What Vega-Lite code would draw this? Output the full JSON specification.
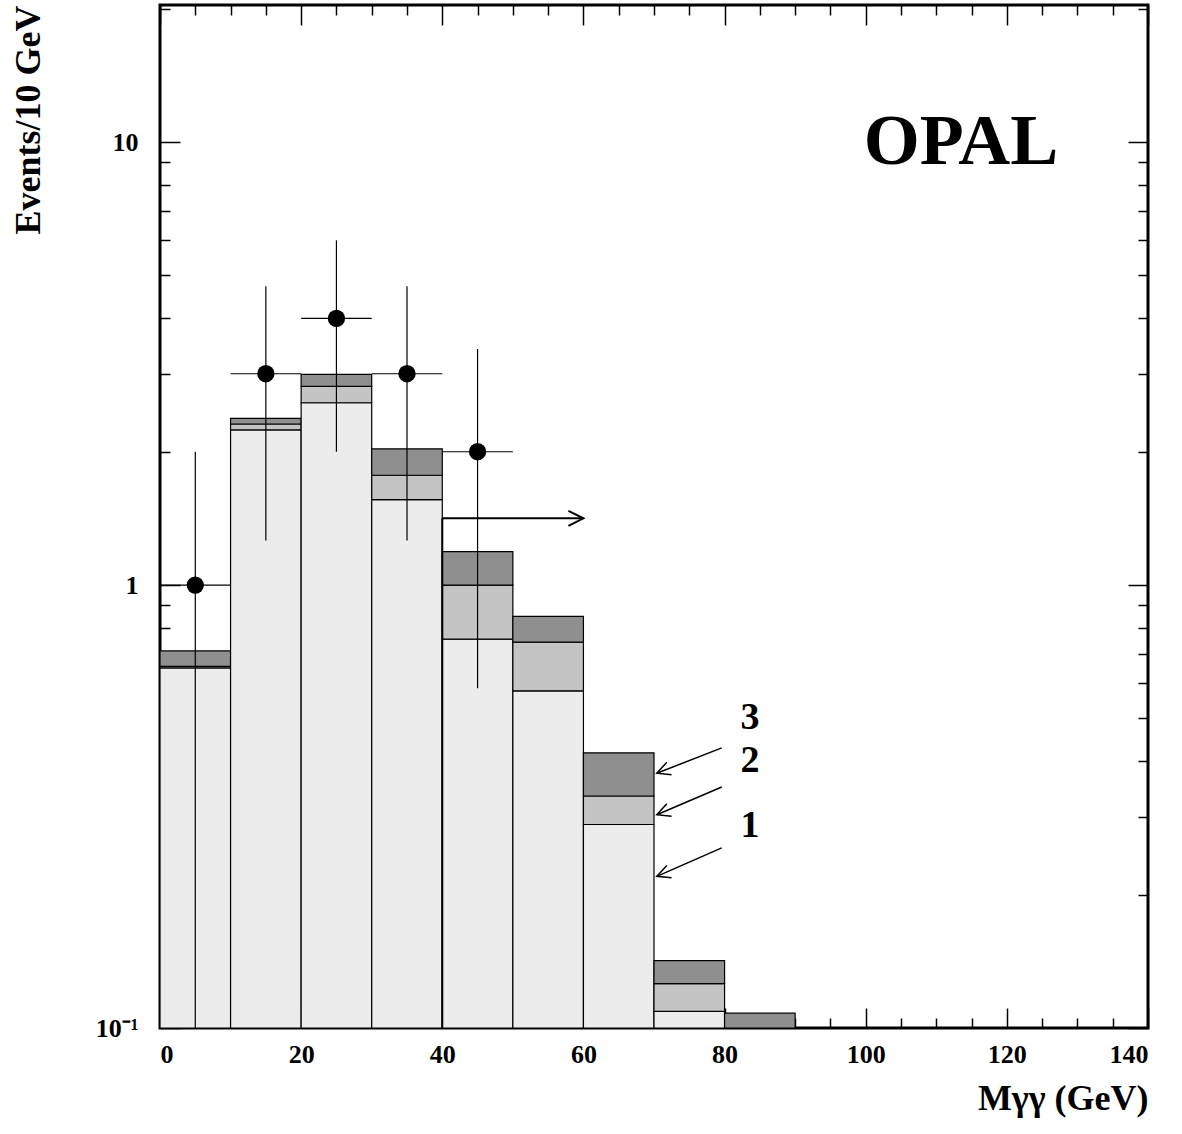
{
  "$schema": "https://vega.github.io/schema/vega-lite/v6.json",
  "width": 988,
  "height": 1023,
  "autosize": "none",
  "padding": {"left": 160, "top": 5, "right": 34, "bottom": 106},
  "background": "white",
  "config": {
    "view": {"stroke": "black", "strokeWidth": 3},
    "axis": {"labelFont": "Liberation Serif", "labelFontWeight": "bold", "labelFontSize": 26, "labelColor": "black", "titleFont": "Liberation Serif", "titleFontWeight": "bold", "titleFontSize": 36, "titleColor": "black", "domain": false, "grid": false, "tickColor": "black", "tickWidth": 1.5}
  },
  "resolve": {"axis": {"x": "independent", "y": "independent"}},
  "datasets": {
    "hist": [
      {"lo": 0, "hi": 10, "y0": 0.1, "y1": 0.65, "comp": "1"},
      {"lo": 0, "hi": 10, "y0": 0.65, "y1": 0.655, "comp": "2"},
      {"lo": 0, "hi": 10, "y0": 0.655, "y1": 0.71, "comp": "3"},
      {"lo": 10, "hi": 20, "y0": 0.1, "y1": 2.24, "comp": "1"},
      {"lo": 10, "hi": 20, "y0": 2.24, "y1": 2.31, "comp": "2"},
      {"lo": 10, "hi": 20, "y0": 2.31, "y1": 2.38, "comp": "3"},
      {"lo": 20, "hi": 30, "y0": 0.1, "y1": 2.58, "comp": "1"},
      {"lo": 20, "hi": 30, "y0": 2.58, "y1": 2.81, "comp": "2"},
      {"lo": 20, "hi": 30, "y0": 2.81, "y1": 2.99, "comp": "3"},
      {"lo": 30, "hi": 40, "y0": 0.1, "y1": 1.56, "comp": "1"},
      {"lo": 30, "hi": 40, "y0": 1.56, "y1": 1.77, "comp": "2"},
      {"lo": 30, "hi": 40, "y0": 1.77, "y1": 2.03, "comp": "3"},
      {"lo": 40, "hi": 50, "y0": 0.1, "y1": 0.755, "comp": "1"},
      {"lo": 40, "hi": 50, "y0": 0.755, "y1": 1.0, "comp": "2"},
      {"lo": 40, "hi": 50, "y0": 1.0, "y1": 1.19, "comp": "3"},
      {"lo": 50, "hi": 60, "y0": 0.1, "y1": 0.577, "comp": "1"},
      {"lo": 50, "hi": 60, "y0": 0.577, "y1": 0.743, "comp": "2"},
      {"lo": 50, "hi": 60, "y0": 0.743, "y1": 0.85, "comp": "3"},
      {"lo": 60, "hi": 70, "y0": 0.1, "y1": 0.288, "comp": "1"},
      {"lo": 60, "hi": 70, "y0": 0.288, "y1": 0.334, "comp": "2"},
      {"lo": 60, "hi": 70, "y0": 0.334, "y1": 0.418, "comp": "3"},
      {"lo": 70, "hi": 80, "y0": 0.1, "y1": 0.109, "comp": "1"},
      {"lo": 70, "hi": 80, "y0": 0.109, "y1": 0.126, "comp": "2"},
      {"lo": 70, "hi": 80, "y0": 0.126, "y1": 0.142, "comp": "3"},
      {"lo": 80, "hi": 90, "y0": 0.1, "y1": 0.108, "comp": "3"}
    ],
    "pts": [
      {"x": 5, "y": 1, "xlo": 0, "xhi": 10, "ylo": 0.1, "yhi": 2.0},
      {"x": 15, "y": 3, "xlo": 10, "xhi": 20, "ylo": 1.26, "yhi": 4.73},
      {"x": 25, "y": 4, "xlo": 20, "xhi": 30, "ylo": 2.0, "yhi": 6.0},
      {"x": 35, "y": 3, "xlo": 30, "xhi": 40, "ylo": 1.26, "yhi": 4.73},
      {"x": 45, "y": 2, "xlo": 40, "xhi": 50, "ylo": 0.585, "yhi": 3.41}
    ],
    "arrows": [
      {"lab": "3", "x1": 79.6, "y1": 0.429, "x2": 70.4, "y2": 0.376, "tx": 83.6, "ty": 0.5, "ang": 159},
      {"lab": "2", "x1": 79.6, "y1": 0.35, "x2": 70.4, "y2": 0.303, "tx": 83.6, "ty": 0.4, "ang": 159},
      {"lab": "1", "x1": 79.6, "y1": 0.255, "x2": 70.4, "y2": 0.22, "tx": 83.6, "ty": 0.286, "ang": 159}
    ],
    "cut": [
      {"x": 40, "y": 0.1, "x2": 40, "y2": 1.415},
      {"x": 40, "y": 1.415, "x2": 60, "y2": 1.415}
    ]
  },
  "layer": [
    {
      "data": {"name": "hist"},
      "mark": {"type": "rect", "stroke": "black", "strokeWidth": 1.2},
      "encoding": {
        "x": {"field": "lo", "type": "quantitative", "scale": {"domain": [0, 140], "nice": false},
          "axis": {"values": [0,5,10,15,20,25,30,35,40,45,50,55,60,65,70,75,80,85,90,95,100,105,110,115,120,125,130,135,140],
            "labelExpr": "datum.value % 20 == 0 ? datum.label : ''",
            "tickSize": {"condition": {"test": "datum.value % 20 == 0", "value": -20}, "value": -10},
            "labelPadding": 33, "title": "Mγγ (GeV)", "titleAnchor": "end", "titlePadding": 14}},
        "x2": {"field": "hi"},
        "y": {"field": "y0", "type": "quantitative", "scale": {"type": "log", "domain": [0.1, 20.4], "nice": false, "clamp": true},
          "axis": {"values": [0.1,0.2,0.3,0.4,0.5,0.6,0.7,0.8,0.9,1,2,3,4,5,6,7,8,9,10,20],
            "labelExpr": "datum.value == 0.1 ? '10⁻¹' : datum.value == 1 ? '1' : datum.value == 10 ? '10' : ''",
            "tickSize": {"condition": {"test": "datum.value == 0.1 || datum.value == 1 || datum.value == 10", "value": -20}, "value": -10},
            "labelPadding": 42, "title": "Events/10 GeV", "titleAnchor": "end", "titlePadding": 48}},
        "y2": {"field": "y1"},
        "fill": {"field": "comp", "type": "nominal", "scale": {"domain": ["1", "2", "3"], "range": ["#ececec", "#c4c4c4", "#8f8f8f"]}, "legend": null}
      }
    },
    {
      "data": {"name": "pts"},
      "mark": {"type": "rule", "color": "black", "strokeWidth": 1.2},
      "encoding": {"x": {"field": "x", "type": "quantitative", "axis": null}, "y": {"field": "ylo", "type": "quantitative", "axis": null}, "y2": {"field": "yhi"}}
    },
    {
      "data": {"name": "pts"},
      "mark": {"type": "rule", "color": "black", "strokeWidth": 1.2},
      "encoding": {"x": {"field": "xlo", "type": "quantitative", "axis": null}, "x2": {"field": "xhi"}, "y": {"field": "y", "type": "quantitative", "axis": null}}
    },
    {
      "data": {"name": "pts"},
      "mark": {"type": "point", "filled": true, "color": "black", "size": 300, "opacity": 1},
      "encoding": {"x": {"field": "x", "type": "quantitative", "axis": null}, "y": {"field": "y", "type": "quantitative", "axis": null}}
    },
    {
      "data": {"name": "cut"},
      "mark": {"type": "rule", "color": "black", "strokeWidth": 2},
      "encoding": {
        "x": {"field": "x", "type": "quantitative",
          "axis": {"orient": "top", "title": null, "labels": false,
            "values": [0,5,10,15,20,25,30,35,40,45,50,55,60,65,70,75,80,85,90,95,100,105,110,115,120,125,130,135,140],
            "tickSize": {"condition": {"test": "datum.value % 20 == 0", "value": -20}, "value": -10}}},
        "x2": {"field": "x2"},
        "y": {"field": "y", "type": "quantitative",
          "axis": {"orient": "right", "title": null, "labels": false,
            "values": [0.1,0.2,0.3,0.4,0.5,0.6,0.7,0.8,0.9,1,2,3,4,5,6,7,8,9,10,20],
            "tickSize": {"condition": {"test": "datum.value == 0.1 || datum.value == 1 || datum.value == 10", "value": -20}, "value": -10}}},
        "y2": {"field": "y2"}
      }
    },
    {
      "data": {"values": [{"x": 60, "y": 1.415}]},
      "mark": {"type": "point", "shape": "M -1 -0.5 L 0 0 L -1 0.5", "filled": false, "stroke": "black", "strokeWidth": 2, "size": 900, "opacity": 1},
      "encoding": {"x": {"field": "x", "type": "quantitative", "axis": null}, "y": {"field": "y", "type": "quantitative", "axis": null}}
    },
    {
      "data": {"name": "arrows"},
      "mark": {"type": "rule", "color": "black", "strokeWidth": 1.5},
      "encoding": {"x": {"field": "x1", "type": "quantitative", "axis": null}, "x2": {"field": "x2"}, "y": {"field": "y1", "type": "quantitative", "axis": null}, "y2": {"field": "y2"}}
    },
    {
      "data": {"name": "arrows"},
      "mark": {"type": "point", "shape": "M -1 -0.5 L 0 0 L -1 0.5", "filled": false, "stroke": "black", "strokeWidth": 1.5, "size": 700, "opacity": 1},
      "encoding": {"x": {"field": "x2", "type": "quantitative", "axis": null}, "y": {"field": "y2", "type": "quantitative", "axis": null}, "angle": {"field": "ang", "type": "quantitative", "scale": null}}
    },
    {
      "data": {"name": "arrows"},
      "mark": {"type": "text", "fontSize": 38, "font": "Liberation Serif", "fontWeight": "bold", "align": "center", "baseline": "middle"},
      "encoding": {"x": {"field": "tx", "type": "quantitative", "axis": null}, "y": {"field": "ty", "type": "quantitative", "axis": null}, "text": {"field": "lab"}}
    },
    {
      "data": {"values": [{"x": 113.5, "y": 10, "t": "OPAL"}]},
      "mark": {"type": "text", "fontSize": 72, "font": "Liberation Serif", "fontWeight": "bold", "align": "center", "baseline": "middle"},
      "encoding": {"x": {"field": "x", "type": "quantitative", "axis": null}, "y": {"field": "y", "type": "quantitative", "axis": null}, "text": {"field": "t"}}
    }
  ]
}
